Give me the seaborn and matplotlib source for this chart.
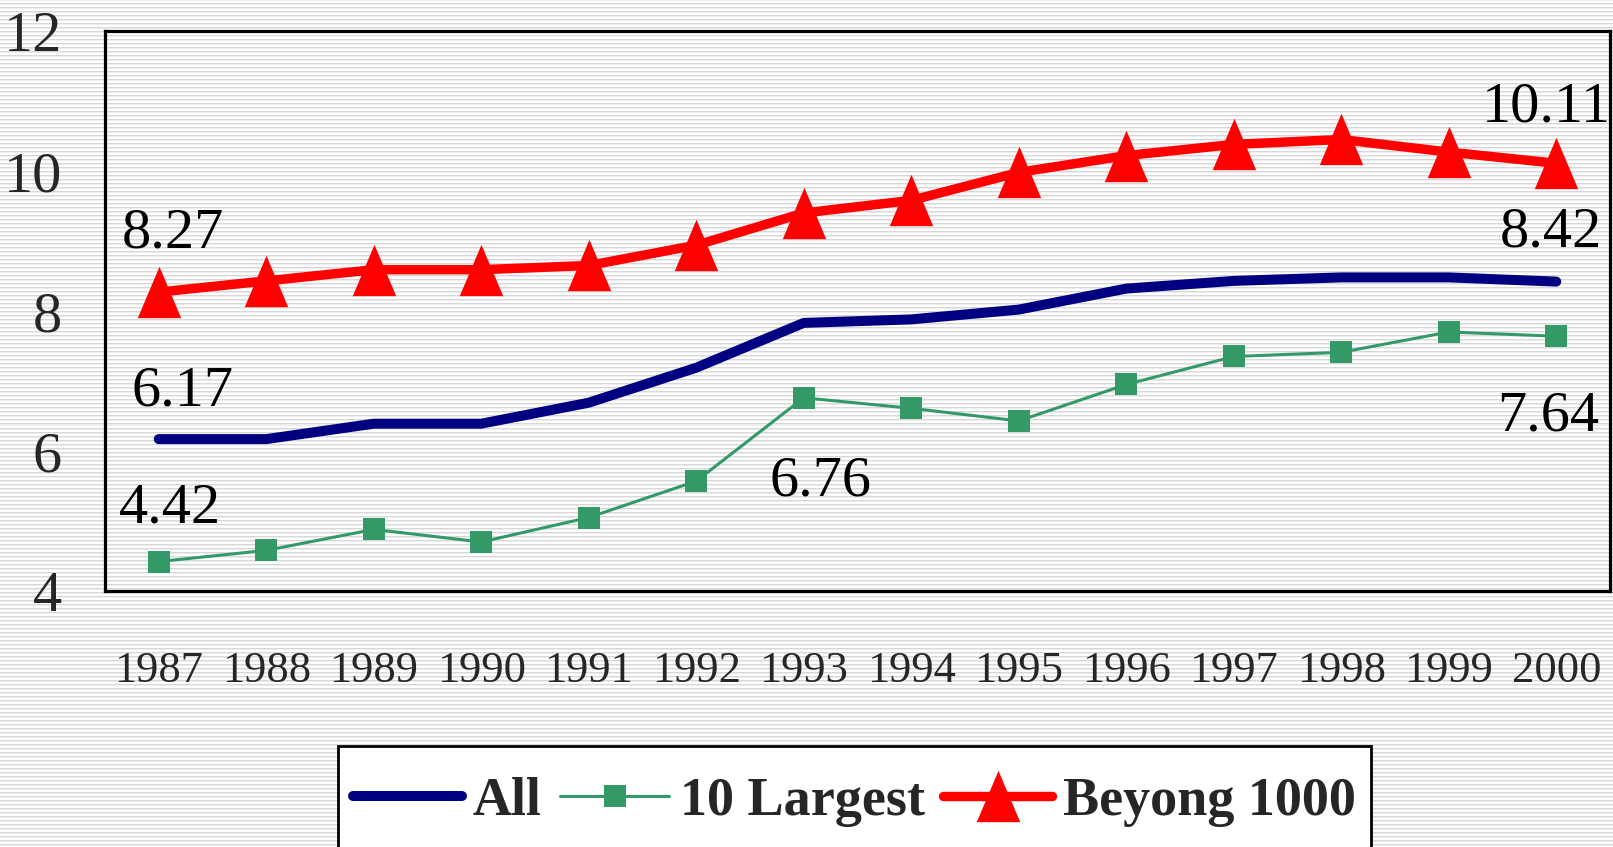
import numpy as np
import matplotlib
matplotlib.use("Agg")
import matplotlib.pyplot as plt
from matplotlib.patches import Rectangle
import seaborn as sns

# ---- data -------------------------------------------------------------
years = [1987, 1988, 1989, 1990, 1991, 1992, 1993,
         1994, 1995, 1996, 1997, 1998, 1999, 2000]
all_firms = [6.17, 6.17, 6.39, 6.39, 6.69, 7.19, 7.83,
             7.88, 8.02, 8.32, 8.43, 8.48, 8.48, 8.42]
largest10 = [4.42, 4.58, 4.88, 4.70, 5.05, 5.57, 6.76,
             6.61, 6.43, 6.95, 7.35, 7.41, 7.70, 7.64]
beyond1000 = [8.27, 8.43, 8.59, 8.59, 8.65, 8.94, 9.40,
              9.58, 9.98, 10.22, 10.38, 10.45, 10.27, 10.11]
series_names = ["All", "10 Largest", "Beyong 1000"]
y_ticks = [4, 6, 8, 10, 12]

# (series, index of point, offset in points) for the value labels
value_labels = [
    (beyond1000, 0, (10, 42)),
    (all_firms, 0, (17, 34)),
    (largest10, 0, (8, 38)),
    (largest10, 6, (12, -60)),
    (beyond1000, 13, (-7, 40)),
    (all_firms, 13, (-4, 35)),
    (largest10, 13, (-6, -58)),
]

# ---- style ------------------------------------------------------------
sns.set_style("white")
plt.rcParams["font.family"] = ["Liberation Serif", "DejaVu Serif"]

W, H = 1613, 847
fig = plt.figure(figsize=(W / 100, H / 100), dpi=100)
fig.patch.set_facecolor("white")

# fine horizontal pinstripe behind everything
bg = fig.add_axes([0, 0, 1, 1], zorder=-10)
rows = np.arange(H)
tone = np.ones(H)
tone[rows % 4 == 0] = 0.84
tone[rows % 4 == 1] = 0.93
bg.imshow(tone[:, None], cmap="gray", vmin=0, vmax=1, aspect="auto",
          interpolation="nearest", extent=[0, 1, 0, 1])
bg.set_axis_off()

left, right, top, bottom = 105, 1610, 31, 591
ax = fig.add_axes([left / W, (H - bottom) / H,
                   (right - left) / W, (bottom - top) / H])
ax.set_facecolor("none")

navy, green, red = "#000080", "#339966", "#ff0000"
tri = [(0, 1), (-0.846, -1), (0.846, -1)]

sns.lineplot(x=years, y=all_firms, ax=ax, color=navy, lw=7.2,
             solid_capstyle="round", label=series_names[0])
sns.lineplot(x=years, y=largest10, ax=ax, color=green, lw=2.2,
             marker="s", markersize=15.5, markeredgewidth=0,
             label=series_names[1])
sns.lineplot(x=years, y=beyond1000, ax=ax, color=red, lw=6.8,
             marker=tri, markersize=37, markeredgewidth=0,
             label=series_names[2])

ax.set_xlim(years[0] - 0.5, years[-1] + 0.5)
ax.set_ylim(y_ticks[0], y_ticks[-1])
ax.set_xlabel("")
ax.set_ylabel("")

ax.set_xticks(years)
ax.set_xticklabels([str(y) for y in years])
ax.set_xticks(np.array(years[:-1]) + 0.5, minor=True)
ax.tick_params(axis="x", which="major", length=0, pad=43, labelsize=32)
ax.tick_params(axis="x", which="minor", direction="in", length=12.5,
               width=2.2, color="black")
ax.set_yticks(y_ticks)
ax.tick_params(axis="y", which="major", direction="in", length=12.5,
               width=2.2, pad=31, labelsize=42, color="black")

for sp in ax.spines.values():
    sp.set_visible(True)
    sp.set_color("black")
    sp.set_linewidth(2.3)

# value labels
for series, i, (dx, dy) in value_labels:
    ax.annotate(f"{series[i]:.2f}", xy=(years[i], series[i]),
                xytext=(dx, dy), textcoords="offset points",
                ha="center", va="center", fontsize=42, color="black",
                annotation_clip=False)

# legend box running off the bottom edge, with the entries inside it
box = Rectangle((338 / W, 1 - 870 / H), (1371 - 338) / W, (870 - 746) / H,
                transform=fig.transFigure, facecolor="white",
                edgecolor="black", linewidth=2.0, zorder=4)
fig.add_artist(box)

handles, labels = ax.get_legend_handles_labels()
ax.get_legend().remove()
leg = fig.legend(handles, labels, loc="center",
                 bbox_to_anchor=(854.5 / W, 1 - 802 / H), ncol=3,
                 frameon=False,
                 prop={"family": "Liberation Serif", "weight": "bold",
                       "size": 39},
                 handlelength=2.0, handletextpad=0.2, columnspacing=0.35,
                 borderpad=0.3, borderaxespad=0)
leg.set_zorder(5)

fig.savefig("out.png", dpi=100, facecolor=fig.get_facecolor())
